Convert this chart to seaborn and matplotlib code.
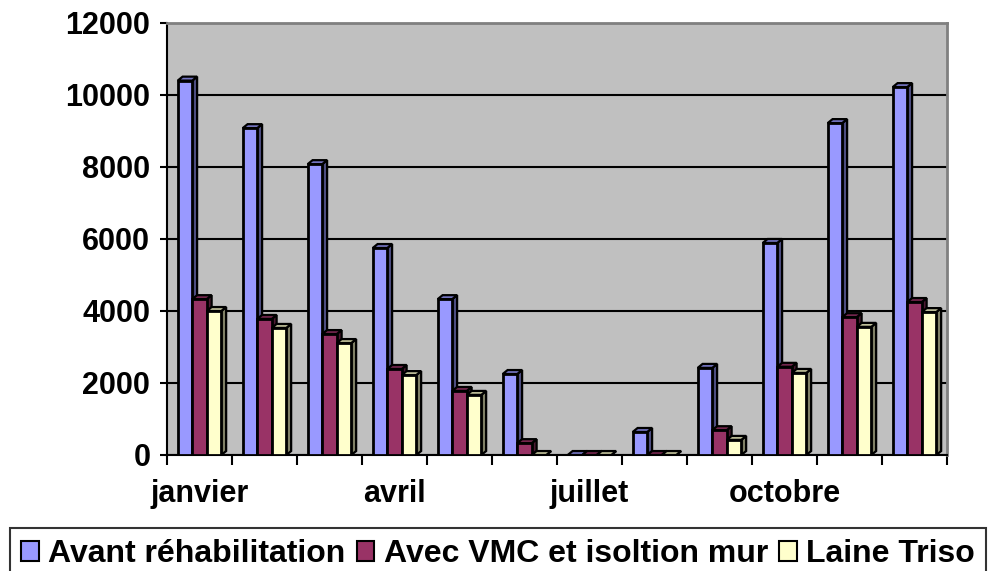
import matplotlib
matplotlib.use("Agg")
import matplotlib.pyplot as plt
import matplotlib.colors as mcolors
from matplotlib.patches import Polygon, Patch
import numpy as np
import pandas as pd
import seaborn as sns

# monthly values
months = ["janvier", "février", "mars", "avril", "mai", "juin", "juillet",
          "août", "septembre", "octobre", "novembre", "décembre"]
avant = [10400, 9080, 8080, 5750, 4330, 2250, 0, 640, 2420, 5890, 9220, 10220]
vmc = [4330, 3780, 3360, 2390, 1780, 330, 0, 0, 690, 2450, 3830, 4250]
laine = [4000, 3530, 3110, 2220, 1670, 0, 0, 0, 420, 2280, 3560, 3970]
series = ["Avant réhabilitation", "Avec VMC et isoltion mur", "Laine Triso"]
colors = ["#9999FF", "#993366", "#FFFFCC"]
shown_labels = ["janvier", "", "", "avril", "", "", "juillet", "", "", "octobre", "", ""]
yticks = [0, 2000, 4000, 6000, 8000, 10000, 12000]

df = pd.DataFrame({
    "mois": months * 3,
    "serie": [s for s in series for _ in months],
    "valeur": avant + vmc + laine,
})

sns.set_style("white")
plt.rcParams["font.family"] = ["Liberation Sans", "DejaVu Sans"]
plt.rcParams["font.weight"] = "bold"
plt.rcParams["text.color"] = "black"
plt.rcParams["xtick.color"] = "black"
plt.rcParams["ytick.color"] = "black"
plt.rcParams["xtick.labelcolor"] = "black"
plt.rcParams["ytick.labelcolor"] = "black"

fig = plt.figure(figsize=(9.9, 5.71), dpi=100)
ax = fig.add_axes([167 / 990, 1 - 455 / 571, 780 / 990, 432 / 571])
ax.set_facecolor("#C0C0C0")

palette = dict(zip(series, colors))
sns.barplot(data=df, x="mois", y="valeur", hue="serie", hue_order=series,
            palette=palette, width=0.67, saturation=1, edgecolor="black",
            linewidth=2, legend=False, ax=ax, zorder=3)

# fake 3D depth: side and top faces from each bar's own geometry
dx, dy = 0.075, 110
bars = [p for p in ax.patches]
for i, bar in enumerate(bars):
    x, w, h = bar.get_x(), bar.get_width(), bar.get_height()
    base = np.array(mcolors.to_rgb(bar.get_facecolor()))
    z = 3 + i * 0.01 + (i // 12) * 0.5
    side = Polygon([(x + w, 0), (x + w + dx, dy), (x + w + dx, h + dy), (x + w, h)],
                   closed=True, facecolor=base * 0.5, edgecolor="black", lw=1.6, zorder=z)
    top = Polygon([(x, h), (x + dx, h + dy), (x + w + dx, h + dy), (x + w, h)],
                  closed=True, facecolor=base * 0.75, edgecolor="black", lw=1.6, zorder=z)
    bar.set_zorder(z + 0.001)
    ax.add_patch(side)
    ax.add_patch(top)

ax.set_xlim(-0.5, len(months) - 0.5)
ax.set_ylim(0, 12000)
ax.set_yticks(yticks)
ax.set_yticklabels([str(v) for v in yticks], fontsize=22, fontweight="bold", color="black")
ax.yaxis.grid(True, color="black", linewidth=1.5, zorder=1)
ax.set_axisbelow(True)

ax.set_xticks(range(len(months)))
ax.set_xticklabels(shown_labels, fontsize=22, fontweight="bold", color="black")
ax.set_xticks(np.arange(-0.5, len(months), 1), minor=True)
ax.tick_params(axis="x", which="major", length=0, pad=17, bottom=True)
ax.tick_params(axis="x", which="minor", length=7, width=1.5, color="black",
               direction="out", bottom=True)
ax.tick_params(axis="y", length=5, width=1.5, color="black", direction="out", pad=7, left=True)
ax.set_xlabel("")
ax.set_ylabel("")

for name in ["left", "bottom"]:
    ax.spines[name].set_color("black")
    ax.spines[name].set_linewidth(1.5)
for name in ["top", "right"]:
    ax.spines[name].set_color("#808080")
    ax.spines[name].set_linewidth(2)

handles = [Patch(facecolor=c, edgecolor="black", linewidth=1.5) for c in colors]
leg = fig.legend(handles, series, loc="upper left", bbox_to_anchor=(10 / 990, 1 - 528 / 571),
                 ncol=3, frameon=True, fancybox=False,
                 prop={"weight": "bold", "size": 23},
                 handlelength=0.55, handleheight=0.55, handletextpad=0.3,
                 columnspacing=0.35, borderpad=0.35, borderaxespad=0)
leg.get_frame().set_edgecolor("black")
leg.get_frame().set_linewidth(1.5)
for t in leg.get_texts():
    t.set_color("black")

fig.savefig("out.png", dpi=100)
